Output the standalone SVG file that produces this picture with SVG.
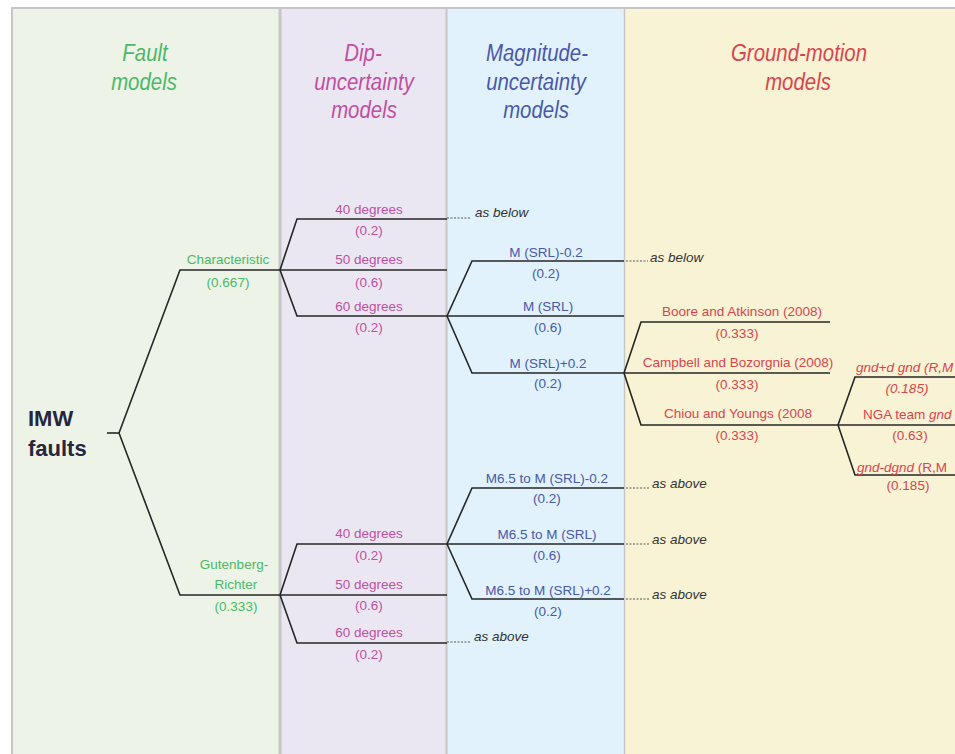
<svg xmlns="http://www.w3.org/2000/svg" width="955" height="754" viewBox="0 0 955 754">
<style>
  text { font-family: "Liberation Sans", Arial, sans-serif; }
  .hdr { font-size: 24px; font-style: italic; text-anchor: middle; }
  .lbl { font-size: 13.5px; text-anchor: middle; }
  .note { font-size: 13.5px; font-style: italic; fill: #333; }
  .it { font-style: italic; }
  .g { fill: #4cb866; }
  .p { fill: #c04fa0; }
  .b { fill: #4a58a8; }
  .r { fill: #d9444c; }
  .root { font-size: 22px; font-weight: bold; fill: #26263e; }
  .edge { fill: none; stroke: #262626; stroke-width: 1.6; stroke-linejoin: miter; }
  .dot { fill: none; stroke: #555; stroke-width: 1; stroke-dasharray: 2 1.5; }
  .div { stroke: #c6c6c6; }
</style>

<g id="panels">
  <rect x="12" y="8" width="268" height="746" fill="#edf4e7"/>
  <rect x="280" y="8" width="167" height="746" fill="#eae7f3"/>
  <rect x="447" y="8" width="178" height="746" fill="#e1f2fd"/>
  <rect x="625" y="8" width="330" height="746" fill="#f9f3d5"/>
  <line class="div" x1="11" y1="8" x2="955" y2="8" stroke-width="2"/>
  <line class="div" x1="12" y1="8" x2="12" y2="754" stroke-width="2"/>
  <line class="div" x1="280" y1="8" x2="280" y2="754" stroke-width="3"/>
  <line class="div" x1="446.5" y1="8" x2="446.5" y2="754" stroke-width="2"/>
  <line class="div" x1="624.5" y1="8" x2="624.5" y2="754" stroke-width="1.5"/>
</g>

<g id="headers">
  <text class="hdr g" transform="translate(145,61) scale(0.85,1)">Fault</text>
  <text class="hdr g" transform="translate(144,89.5) scale(0.85,1)">models</text>
  <text class="hdr p" transform="translate(363,61) scale(0.85,1)">Dip-</text>
  <text class="hdr p" transform="translate(364,89.5) scale(0.85,1)">uncertainty</text>
  <text class="hdr p" transform="translate(364,118) scale(0.85,1)">models</text>
  <text class="hdr b" transform="translate(537,61) scale(0.85,1)">Magnitude-</text>
  <text class="hdr b" transform="translate(536,89.5) scale(0.85,1)">uncertainty</text>
  <text class="hdr b" transform="translate(536,118) scale(0.85,1)">models</text>
  <text class="hdr r" transform="translate(799,61) scale(0.85,1)">Ground-motion</text>
  <text class="hdr r" transform="translate(798,89.5) scale(0.85,1)">models</text>
</g>

<g id="connectors">
  <path class="edge" d="M107,433 H119"/>
  <path class="edge" d="M119,433 L180,270 H280"/>
  <path class="edge" d="M119,433 L180,595 H280"/>
  <path class="edge" d="M280,270 L297,219 H447"/>
  <path class="edge" d="M280,270 H447"/>
  <path class="edge" d="M280,270 L297,316 H447"/>
  <path class="edge" d="M280,595 L297,544 H447"/>
  <path class="edge" d="M280,595 H447"/>
  <path class="edge" d="M280,595 L297,643 H447"/>
  <path class="edge" d="M447,316 L472,261 H624"/>
  <path class="edge" d="M447,316 H624"/>
  <path class="edge" d="M447,316 L472,373 H624"/>
  <path class="edge" d="M447,544 L472,488 H624"/>
  <path class="edge" d="M447,544 H624"/>
  <path class="edge" d="M447,544 L472,599 H624"/>
  <path class="edge" d="M624,373 L641,322 H830"/>
  <path class="edge" d="M624,373 H830"/>
  <path class="edge" d="M624,373 L641,425 H838"/>
  <path class="edge" d="M838,425 L855,377 H955"/>
  <path class="edge" d="M838,425 H955"/>
  <path class="edge" d="M838,425 L855,475 H955"/>
  <path class="dot" d="M447,218 H470"/>
  <path class="dot" d="M626,261 H648"/>
  <path class="dot" d="M626,488 H650"/>
  <path class="dot" d="M626,544 H650"/>
  <path class="dot" d="M626,599 H650"/>
  <path class="dot" d="M447,642 H470"/>
</g>

<g id="root">
  <text class="root" x="28" y="426">IMW</text>
  <text class="root" x="28" y="456">faults</text>
</g>

<g id="fault-characteristic">
  <text class="lbl g" x="228" y="264">Characteristic</text>
  <text class="lbl g" x="228" y="287">(0.667)</text>
</g>
<g id="fault-gr">
  <text class="lbl g" x="234" y="569">Gutenberg-</text>
  <text class="lbl g" x="236" y="589">Richter</text>
  <text class="lbl g" x="236" y="611">(0.333)</text>
</g>

<g id="dip-c40">
  <text class="lbl p" x="369" y="214">40 degrees</text>
  <text class="lbl p" x="369" y="235">(0.2)</text>
</g>
<g id="dip-c50">
  <text class="lbl p" x="369" y="264">50 degrees</text>
  <text class="lbl p" x="369" y="287">(0.6)</text>
</g>
<g id="dip-c60">
  <text class="lbl p" x="369" y="311">60 degrees</text>
  <text class="lbl p" x="369" y="332">(0.2)</text>
</g>
<g id="dip-g40">
  <text class="lbl p" x="369" y="538">40 degrees</text>
  <text class="lbl p" x="369" y="560">(0.2)</text>
</g>
<g id="dip-g50">
  <text class="lbl p" x="369" y="589">50 degrees</text>
  <text class="lbl p" x="369" y="610">(0.6)</text>
</g>
<g id="dip-g60">
  <text class="lbl p" x="369" y="637">60 degrees</text>
  <text class="lbl p" x="369" y="659">(0.2)</text>
</g>

<g id="mag-u1">
  <text class="lbl b" x="546" y="257">M (SRL)-0.2</text>
  <text class="lbl b" x="546" y="278">(0.2)</text>
</g>
<g id="mag-u2">
  <text class="lbl b" x="548" y="311">M (SRL)</text>
  <text class="lbl b" x="548" y="332">(0.6)</text>
</g>
<g id="mag-u3">
  <text class="lbl b" x="548" y="368">M (SRL)+0.2</text>
  <text class="lbl b" x="548" y="388">(0.2)</text>
</g>
<g id="mag-l1">
  <text class="lbl b" x="547" y="483">M6.5 to M (SRL)-0.2</text>
  <text class="lbl b" x="547" y="503">(0.2)</text>
</g>
<g id="mag-l2">
  <text class="lbl b" x="547" y="539">M6.5 to M (SRL)</text>
  <text class="lbl b" x="547" y="560">(0.6)</text>
</g>
<g id="mag-l3">
  <text class="lbl b" x="548" y="595">M6.5 to M (SRL)+0.2</text>
  <text class="lbl b" x="548" y="616">(0.2)</text>
</g>

<g id="gm-boore">
  <text class="lbl r" x="742" y="316">Boore and Atkinson (2008)</text>
  <text class="lbl r" x="737" y="338">(0.333)</text>
</g>
<g id="gm-campbell">
  <text class="lbl r" x="738" y="367">Campbell and Bozorgnia (2008)</text>
  <text class="lbl r" x="737" y="389">(0.333)</text>
</g>
<g id="gm-chiou">
  <text class="lbl r" x="738" y="418">Chiou and Youngs (2008</text>
  <text class="lbl r" x="737" y="440">(0.333)</text>
</g>

<g id="nga-plus">
  <text class="lbl r it" x="856" y="372" text-anchor="start" style="text-anchor:start">gnd+d gnd (R,M</text>
  <text class="lbl r it" x="907" y="393">(0.185)</text>
</g>
<g id="nga-mid">
  <text class="lbl r" x="863" y="419" style="text-anchor:start">NGA team <tspan class="it">gnd</tspan></text>
  <text class="lbl r" x="910" y="440">(0.63)</text>
</g>
<g id="nga-minus">
  <text class="lbl r" x="857" y="472" style="text-anchor:start"><tspan class="it">gnd-dgnd</tspan> (R,M</text>
  <text class="lbl r" x="908" y="490">(0.185)</text>
</g>

<g id="notes">
  <text class="note" x="475" y="217">as below</text>
  <text class="note" x="650" y="262">as below</text>
  <text class="note" x="652" y="488">as above</text>
  <text class="note" x="652" y="544">as above</text>
  <text class="note" x="652" y="599">as above</text>
  <text class="note" x="474" y="641">as above</text>
</g>
</svg>
